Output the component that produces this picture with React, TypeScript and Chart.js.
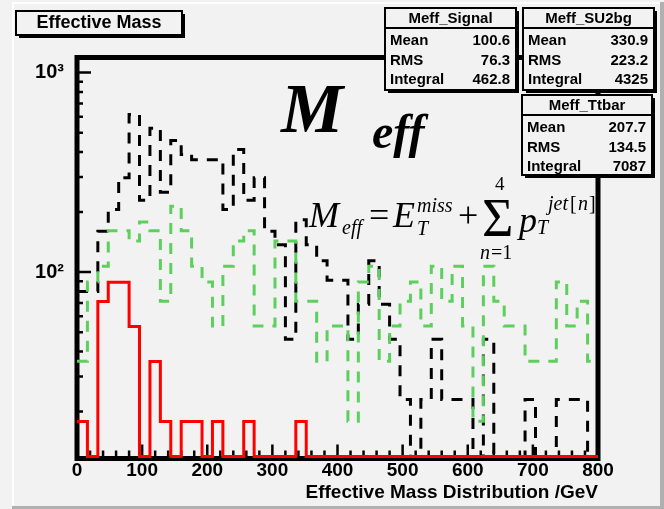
import React, { useEffect, useRef } from 'react';
import { Chart, registerables } from 'chart.js';

Chart.register(...registerables);

// ---------------- data ----------------
const BIN_EDGES = [0, 16, 32, 48, 64, 80, 96, 112, 128, 144, 160, 176, 192, 208, 224, 240, 256, 272, 288, 304,
  320, 336, 352, 368, 384, 400, 416, 432, 448, 464, 480, 496, 512, 528, 544, 560, 576, 592, 608, 624,
  640, 656, 672, 688, 704, 720, 736, 752, 768, 784, 800];

// Meff_Signal (red, solid)
const SIGNAL = [17.8, 0, 71.2, 89, 89, 53.4, 0, 35.6, 17.8, 0,
  17.8, 17.8, 0, 17.8, 0, 0, 17.8, 0, 0, 0,
  0, 17.8, 0, 0, 0, 0, 0, 0, 0, 0,
  0, 0, 0, 0, 0, 0, 0, 0, 0, 0,
  0, 0, 0, 0, 0, 0, 0, 0, 0, 0];

// Meff_Ttbar (black, dashed)
const TTBAR = [80, 80, 160, 206, 297, 617, 229, 526, 251, 457,
  389, 366, 366, 366, 206, 411, 229, 297, 160, 137,
  46, 183, 137, 114, 91, 91, 46, 69, 114, 69,
  46, 23, 0, 23, 46, 23, 23, 23, 0, 46,
  0, 0, 0, 23, 0, 0, 23, 23, 23, 0];

// Meff_SU2bg (green, dashed)
const SU2BG = [35.7, 89.3, 107, 161, 161, 143, 178, 161, 71.4, 214,
  161, 107, 89.3, 53.6, 107, 143, 161, 53.6, 53.6, 143,
  143, 71.4, 71.4, 35.7, 53.6, 53.6, 17.9, 89.3, 107, 35.7,
  53.6, 71.4, 89.3, 53.6, 107, 71.4, 107, 53.6, 17.9, 107,
  71.4, 53.6, 53.6, 35.7, 35.7, 35.7, 89.3, 53.6, 71.4, 35.7];

const X_MIN = 0;
const X_MAX = 800;
const Y_MIN = 11.9;
const Y_MAX = 1190;
const Y_MAJOR_TICKS = [100, 1000];
const Y_MAJOR_LABELS = ['10\u00B2', '10\u00B3'];
const Y_MINOR_TICKS = [20, 30, 40, 50, 60, 70, 80, 90, 200, 300, 400, 500, 600, 700, 800, 900];
const X_TICK_STEP = 100;
const X_MINOR_STEP = 20;

const STATS = [
  { name: 'Meff_Signal', mean: '100.6', rms: '76.3', integral: '462.8' },
  { name: 'Meff_SU2bg', mean: '330.9', rms: '223.2', integral: '4325' },
  { name: 'Meff_Ttbar', mean: '207.7', rms: '134.5', integral: '7087' },
];

const TITLE = 'Effective Mass';
const X_TITLE = 'Effective Mass Distribution /GeV';

// ---------------- style ----------------
const W = 664;
const H = 509;
const BG = '#f2f2f2';
const SANS = '"Liberation Sans", Arial, sans-serif';
const SERIF = '"Liberation Serif", "Times New Roman", serif';

const toPoints = (vals: number[]) => {
  const pts = vals.map((v, i) => ({ x: BIN_EDGES[i], y: v > 0 ? v : Y_MIN }));
  const last = vals[vals.length - 1];
  pts.push({ x: BIN_EDGES[BIN_EDGES.length - 1], y: last > 0 ? last : Y_MIN });
  return pts;
};

function text(ctx: CanvasRenderingContext2D, s: string, x: number, y: number, font: string, align: CanvasTextAlign = 'left', baseline: CanvasTextBaseline = 'alphabetic') {
  ctx.font = font;
  ctx.textAlign = align;
  ctx.textBaseline = baseline;
  ctx.fillStyle = '#000';
  ctx.fillText(s, x, y);
}

function box(ctx: CanvasRenderingContext2D, x: number, y: number, w: number, h: number) {
  ctx.fillStyle = '#000';
  ctx.fillRect(x + 3, y + 3, w, h);
  ctx.fillStyle = BG;
  ctx.fillRect(x, y, w, h);
  ctx.strokeStyle = '#000';
  ctx.lineWidth = 2;
  ctx.strokeRect(x, y, w, h);
}

function statBox(ctx: CanvasRenderingContext2D, x: number, y: number, w: number, h: number, s: typeof STATS[number]) {
  box(ctx, x, y, w, h);
  ctx.beginPath();
  ctx.moveTo(x, y + 20);
  ctx.lineTo(x + w, y + 20);
  ctx.stroke();
  const bold = `bold 15px ${SANS}`;
  text(ctx, s.name, x + w / 2, y + 11, bold, 'center', 'middle');
  const rows: [string, string][] = [['Mean', s.mean], ['RMS', s.rms], ['Integral', s.integral]];
  rows.forEach(([k, v], i) => {
    const cy = y + 33 + i * 19.5;
    text(ctx, k, x + 5, cy, bold, 'left', 'middle');
    text(ctx, v, x + w - 6, cy, bold, 'right', 'middle');
  });
}

const backgroundPlugin = {
  id: 'rootBackground',
  beforeDraw(chart: Chart) {
    const { ctx, width, height } = chart;
    ctx.save();
    ctx.fillStyle = BG;
    ctx.fillRect(0, 0, width, height);
    ctx.fillStyle = '#ffffff';
    ctx.fillRect(12, 2, 2, height - 6);
    ctx.fillRect(12, 2, width - 16, 2);
    ctx.fillStyle = '#b0b0b0';
    ctx.fillRect(width - 4, 2, 4, height - 2);
    ctx.fillRect(12, height - 3, width - 12, 3);
    ctx.restore();
  },
};

const framePlugin = {
  id: 'rootFrame',
  beforeDatasetsDraw(chart: Chart) {
    const { ctx, chartArea: a } = chart;
    const xs = chart.scales.x;
    const ys = chart.scales.y;
    ctx.save();
    ctx.strokeStyle = '#000';
    ctx.lineWidth = 2.5;
    ctx.beginPath();
    for (let v = X_MIN; v <= X_MAX; v += X_MINOR_STEP) {
      const px = xs.getPixelForValue(v);
      const len = v % X_TICK_STEP === 0 ? 12 : 6;
      ctx.moveTo(px, a.bottom);
      ctx.lineTo(px, a.bottom - len);
    }
    Y_MINOR_TICKS.forEach((v) => {
      const py = ys.getPixelForValue(v);
      ctx.moveTo(a.left, py);
      ctx.lineTo(a.left + 6, py);
    });
    Y_MAJOR_TICKS.forEach((v) => {
      const py = ys.getPixelForValue(v);
      ctx.moveTo(a.left, py);
      ctx.lineTo(a.left + 14, py);
    });
    ctx.stroke();
    ctx.lineWidth = 5;
    ctx.strokeRect(a.left, a.top, a.right - a.left, a.bottom - a.top + 2);
    ctx.restore();
  },
};

const overlayPlugin = {
  id: 'rootOverlay',
  afterDraw(chart: Chart) {
    const { ctx } = chart;
    ctx.save();
    // title box
    box(ctx, 16, 11, 166, 24);
    text(ctx, TITLE, 16 + 83, 23.5, `bold 18px ${SANS}`, 'center', 'middle');
    // stat boxes
    statBox(ctx, 385, 8, 131, 82, STATS[0]);
    statBox(ctx, 523, 8, 131, 82, STATS[1]);
    statBox(ctx, 522, 95, 130, 80, STATS[2]);
    // big M_eff
    text(ctx, 'M', 281, 132, `bold italic 70px ${SERIF}`);
    text(ctx, 'eff', 372, 148, `bold italic 48px ${SERIF}`);
    // formula
    const it36 = `italic 36px ${SERIF}`;
    const it20 = `italic 20px ${SERIF}`;
    const r36 = `36px ${SERIF}`;
    const r20 = `20px ${SERIF}`;
    text(ctx, 'M', 309, 227, it36);
    text(ctx, 'eff', 342, 234, it20);
    text(ctx, '=', 369, 227, r36);
    text(ctx, 'E', 393, 227, it36);
    text(ctx, 'miss', 417, 212, it20);
    text(ctx, 'T', 417, 235, it20);
    text(ctx, '+', 458, 227, r36);
    text(ctx, '\u03A3', 482, 236, `54px ${SERIF}`);
    text(ctx, '4', 495, 190, `19px ${SERIF}`);
    text(ctx, 'n', 480, 259, it20);
    text(ctx, '=1', 491, 259, r20);
    text(ctx, 'p', 519, 232, it36);
    text(ctx, 'T', 537, 234, it20);
    text(ctx, 'jet', 548, 210, it20);
    text(ctx, '[', 570, 210, r20);
    text(ctx, 'n', 578, 210, it20);
    text(ctx, ']', 589, 210, r20);
    ctx.restore();
  },
};

export default function App() {
  const ref = useRef<HTMLCanvasElement | null>(null);

  useEffect(() => {
    if (!ref.current) return;
    const common = {
      borderWidth: 3,
      stepped: 'before',
      pointRadius: 0,
      fill: false,
      borderCapStyle: 'butt',
      borderJoinStyle: 'miter',
      clip: 4,
    };
    const chart = new Chart(ref.current, {
      type: 'line',
      data: {
        datasets: [
          { ...common, label: STATS[0].name, data: toPoints(SIGNAL), borderColor: '#ff0000', order: 0 },
          { ...common, label: STATS[1].name, data: toPoints(SU2BG), borderColor: '#5ccf5c', borderDash: [11, 9], order: 1 },
          { ...common, label: STATS[2].name, data: toPoints(TTBAR), borderColor: '#000000', borderDash: [11, 9], order: 2 },
        ],
      },
      options: {
        animation: false,
        responsive: false,
        devicePixelRatio: 1,
        layout: { padding: { left: 0, right: 66, top: 57.5, bottom: 0 } },
        plugins: {
          legend: { display: false },
          tooltip: { enabled: false },
          title: { display: false },
        },
        scales: {
          x: {
            type: 'linear',
            min: X_MIN,
            max: X_MAX,
            grid: { display: false },
            border: { display: false },
            ticks: {
              stepSize: X_TICK_STEP,
              color: '#000',
              padding: -5,
              maxRotation: 0,
              autoSkip: false,
              font: { family: SANS, size: 19, weight: 'bold' },
            },
            title: {
              display: true,
              text: X_TITLE,
              align: 'end',
              color: '#000',
              padding: { top: 0, bottom: 5 },
              font: { family: SANS, size: 19, weight: 'bold' },
            },
            afterFit: (s: any) => { s.height = 52.5; },
          },
          y: {
            type: 'logarithmic',
            min: Y_MIN,
            max: Y_MAX,
            grid: { display: false },
            border: { display: false },
            afterBuildTicks: (s: any) => { s.ticks = Y_MAJOR_TICKS.map((v) => ({ value: v })); },
            ticks: {
              color: '#000',
              padding: 5,
              autoSkip: false,
              font: { family: SANS, size: 20, weight: 'bold' },
              callback: (v: any) => {
                const i = Y_MAJOR_TICKS.indexOf(Number(v));
                return i >= 0 ? Y_MAJOR_LABELS[i] : '';
              },
            },
            afterFit: (s: any) => { s.width = 77; },
          },
        },
      },
      plugins: [backgroundPlugin, framePlugin, overlayPlugin],
    } as any);
    return () => chart.destroy();
  }, []);

  return (
    <div style={{ position: 'fixed', left: 0, top: 0, width: W, height: H, background: BG }}>
      <canvas ref={ref} width={W} height={H} style={{ display: 'block', width: W, height: H }} />
    </div>
  );
}
